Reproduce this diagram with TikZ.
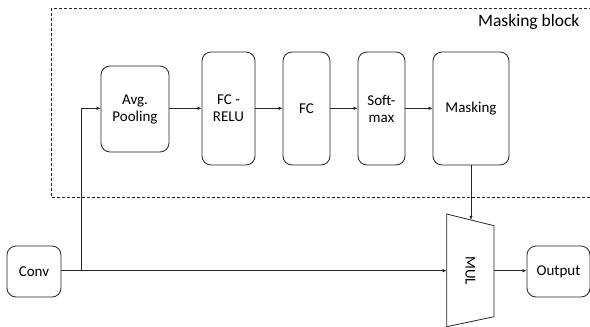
\documentclass[tikz,border=0pt]{standalone}
\usepackage{fontspec}
\setmainfont{Carlito}
\usetikzlibrary{arrows.meta, positioning, calc}
\definecolor{LineGray}{rgb}{0.15, 0.15, 0.15}

\tikzset{
    caja/.style={draw=LineGray, line width=0.8pt, rounded corners=9pt, align=center,
        inner sep=0pt, font=\fontsize{15}{17}\selectfont},
    flecha/.style={draw=LineGray, line width=0.7pt, -{Latex[length=4pt, width=3.5pt]}},
}

\begin{document}
\begin{tikzpicture}[x=1pt, y=-1pt]
\clip (0,0) rectangle (590,327);

% bloque de enmascarado
\draw[LineGray, line width=0.8pt, dash pattern=on 3pt off 2pt] (51,8) rectangle (620,197);
\node[font=\fontsize{17.5}{20}\selectfont, anchor=east] (titulo) at (583,22) {Masking block};

% cajas superiores
\node[caja, minimum width=68, minimum height=86] (pool) at (135,109) {Avg.\\Pooling};
\node[caja, minimum width=53, minimum height=113] (fcrelu) at (228.5,108.5) {FC -\\RELU};
\node[caja, minimum width=47, minimum height=113] (fc) at (306.5,108.5) {FC};
\node[caja, minimum width=47, minimum height=113] (soft) at (381.5,108.5) {Soft-\\max};
\node[caja, minimum width=76, minimum height=113] (mask) at (471,108.5) {Masking};

% cajas inferiores
\node[caja, minimum width=54, minimum height=51] (conv) at (34,271.5) {Conv};
\node[caja, minimum width=63, minimum height=51] (out) at (558.5,271.5) {Output};

% multiplicador (trapecio)
\coordinate (m1) at (446.7,214);
\coordinate (m2) at (494,225.7);
\coordinate (m3) at (494,316.7);
\coordinate (m4) at (446.7,326.7);
\draw[LineGray, line width=0.8pt] (m1) -- (m2) -- (m3) -- (m4) -- cycle;
\node[font=\fontsize{15}{17}\selectfont, rotate=-90] (mul) at (470.3,270.7) {MUL};
\coordinate (mulin) at (446.7,270.7);
\coordinate (mulout) at (494,270.7);
\coordinate (multop) at (471,219.9);

% conexiones
\coordinate (rama) at (81.7,270.7);
\draw[flecha] (conv.east |- rama) -- (mulin);
\draw[flecha] (rama) |- (pool.west |- 0,108.3);
\draw[flecha] (pool.east |- 0,108.3) -- (fcrelu.west |- 0,108.3);
\draw[flecha] (fcrelu.east |- 0,108.3) -- (fc.west |- 0,108.3);
\draw[flecha] (fc.east |- 0,108.3) -- (soft.west |- 0,108.3);
\draw[flecha] (soft.east |- 0,108.3) -- (mask.west |- 0,108.3);
\draw[flecha] (mask.south) -- (multop);
\draw[flecha] (mulout) -- (out.west |- mulout);

\end{tikzpicture}
\end{document}
